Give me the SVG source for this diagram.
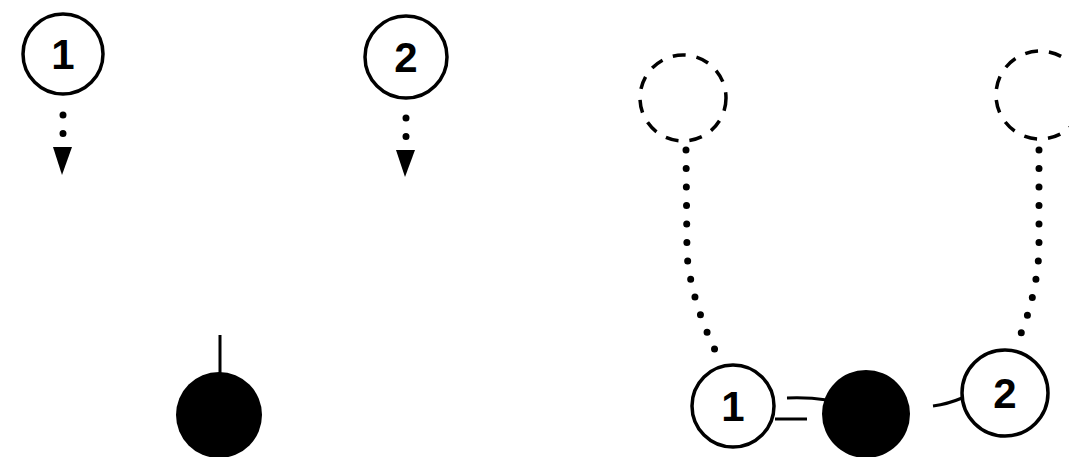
<svg xmlns="http://www.w3.org/2000/svg" width="1069" height="457" viewBox="0 0 1069 457">
<style>
.node{fill:#fff;stroke:#000;stroke-width:3.5}
.ghost{fill:none;stroke:#000;stroke-width:3.5;stroke-dasharray:13 11}
.solid{fill:#000}
.lbl{font-family:"Liberation Sans",Arial,sans-serif;font-weight:bold;font-size:42px;text-anchor:middle;fill:#000}
.dot{fill:none;stroke:#000;stroke-width:7;stroke-linecap:round;stroke-dasharray:0 18.5}
.ln{fill:none;stroke:#000;stroke-width:3}
.head{fill:#000}
</style>
<rect width="1069" height="457" fill="#fff"/>
<g id="connectors">
<path class="dot" d="M63 115 L63 134"/>
<polygon class="head" points="53,147 72,147 62,175"/>
<path class="dot" d="M406 118 L406 137"/>
<polygon class="head" points="396,150 415,150 405,177"/>
<path class="dot" d="M686 150 L687 255 Q692 305 719 358"/>
<path class="dot" d="M1039 150 L1039 252 Q1036 300 1017 343"/>
<path class="ln" d="M220 335 L220 373"/>
<path class="ln" d="M787 398 Q807 397 827 400"/>
<path class="ln" d="M775 419 L807 419"/>
<path class="ln" d="M933 406 Q948 404 962 398"/>
</g>
<g id="n1-top">
<circle class="node" cx="63" cy="54" r="40"/>
<text class="lbl" x="63" y="69">1</text>
</g>
<g id="n2-top">
<circle class="node" cx="406" cy="57" r="41"/>
<text class="lbl" x="406" y="72">2</text>
</g>
<g id="ghost1">
<circle class="ghost" cx="683" cy="98" r="43"/>
</g>
<g id="ghost2">
<circle class="ghost" cx="1040" cy="95" r="44"/>
</g>
<g id="black-left">
<circle class="solid" cx="219" cy="415" r="43"/>
</g>
<g id="n1-bottom">
<circle class="node" cx="733" cy="406" r="41"/>
<text class="lbl" x="733" y="421">1</text>
</g>
<g id="black-right">
<circle class="solid" cx="866" cy="414" r="44"/>
</g>
<g id="n2-bottom">
<circle class="node" cx="1005" cy="393" r="43"/>
<text class="lbl" x="1005" y="408">2</text>
</g>
</svg>
